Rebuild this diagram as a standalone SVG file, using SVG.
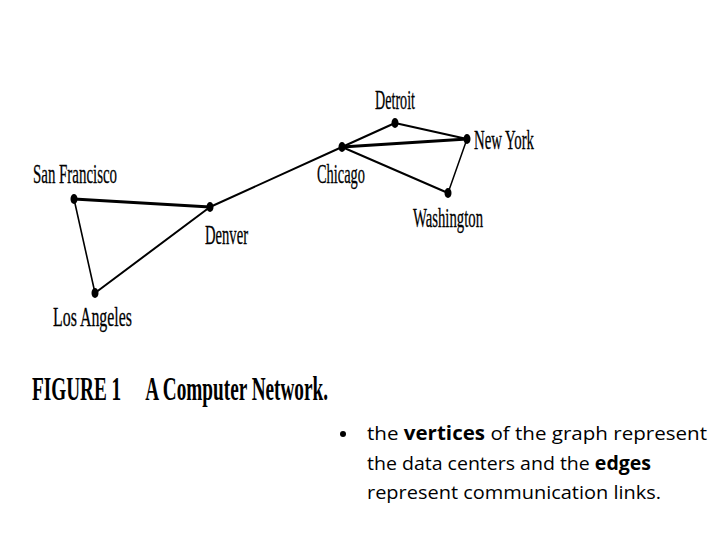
<svg xmlns="http://www.w3.org/2000/svg" width="720" height="540" viewBox="0 0 720 540">
<style>
.lbl{font-family:"Liberation Serif","Times New Roman",serif;font-size:28px;fill:#000;stroke:#000;stroke-width:0.3}
.cap{font-family:"Liberation Serif","Times New Roman",serif;font-size:33px;font-weight:bold;fill:#000}
.body{font-family:"Open Sans","Noto Sans","Liberation Sans",sans-serif;font-size:19px;fill:#000}
.e{stroke:#000;stroke-linecap:round;fill:none}
.v{fill:#000}
</style>
<rect width="720" height="540" fill="#fff"/>
<g id="edges">
<line class="e" x1="74" y1="199" x2="210" y2="207" stroke-width="3"/>
<line class="e" x1="74" y1="199" x2="95" y2="293" stroke-width="1.6"/>
<line class="e" x1="95" y1="293" x2="210" y2="207" stroke-width="2"/>
<line class="e" x1="210" y1="207" x2="342" y2="147" stroke-width="2"/>
<line class="e" x1="342" y1="147" x2="395" y2="123" stroke-width="2"/>
<line class="e" x1="342" y1="147" x2="467" y2="139" stroke-width="3"/>
<line class="e" x1="342" y1="147" x2="448" y2="193" stroke-width="2"/>
<line class="e" x1="395" y1="123" x2="467" y2="139" stroke-width="2.2"/>
<line class="e" x1="467" y1="139" x2="448" y2="193" stroke-width="1.5"/>
</g>
<g id="sanfrancisco"><ellipse class="v" cx="74" cy="199" rx="3.5" ry="5"/><text class="lbl" x="33" y="183" textLength="84" lengthAdjust="spacingAndGlyphs">San Francisco</text></g>
<g id="denver"><ellipse class="v" cx="210" cy="207" rx="3.5" ry="5"/><text class="lbl" x="205" y="244" textLength="43" lengthAdjust="spacingAndGlyphs">Denver</text></g>
<g id="losangeles"><ellipse class="v" cx="95" cy="293" rx="3.5" ry="5"/><text class="lbl" x="53" y="326" textLength="79" lengthAdjust="spacingAndGlyphs">Los Angeles</text></g>
<g id="chicago"><ellipse class="v" cx="342" cy="147" rx="3.5" ry="5"/><text class="lbl" x="317" y="183" textLength="48" lengthAdjust="spacingAndGlyphs">Chicago</text></g>
<g id="detroit"><ellipse class="v" cx="395" cy="123" rx="3.5" ry="5"/><text class="lbl" x="375" y="109" textLength="40" lengthAdjust="spacingAndGlyphs">Detroit</text></g>
<g id="newyork"><ellipse class="v" cx="467" cy="139" rx="3.5" ry="5"/><text class="lbl" x="474" y="149" textLength="60" lengthAdjust="spacingAndGlyphs">New York</text></g>
<g id="washington"><ellipse class="v" cx="448" cy="193" rx="3.5" ry="5"/><text class="lbl" x="413" y="227" textLength="70" lengthAdjust="spacingAndGlyphs">Washington</text></g>
<text class="cap" x="32" y="400" textLength="296" lengthAdjust="spacingAndGlyphs">FIGURE 1&#160;&#160;&#160;&#160;&#160;A Computer Network.</text>
<circle cx="343" cy="434" r="3" fill="#000"/>
<text class="body" x="367" y="440" textLength="340" lengthAdjust="spacingAndGlyphs">the <tspan font-weight="bold">vertices</tspan> of the graph represent</text>
<text class="body" x="367" y="470" textLength="284" lengthAdjust="spacingAndGlyphs">the data centers and the <tspan font-weight="bold">edges</tspan></text>
<text class="body" x="367" y="499" textLength="294" lengthAdjust="spacingAndGlyphs">represent communication links.</text>
</svg>
